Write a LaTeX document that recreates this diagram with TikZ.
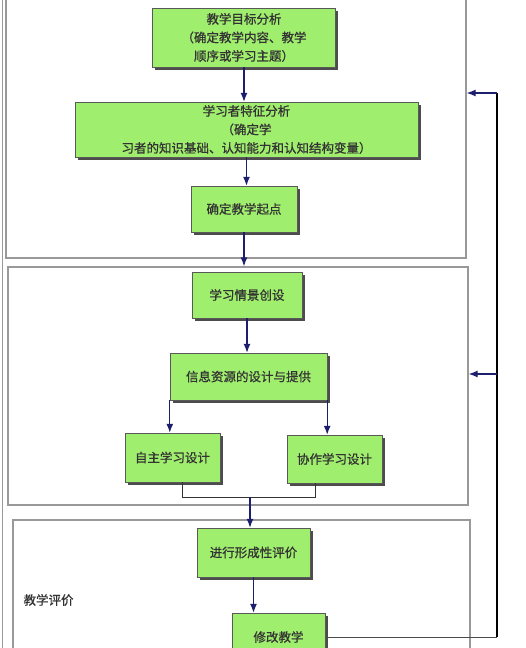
\documentclass[tikz,border=0pt]{standalone}
\usepackage{fontspec}
\newfontfamily\cjk[FakeBold=0.8]{Noto Sans CJK SC}
\usetikzlibrary{arrows.meta,shadows,positioning,calc}
\definecolor{boxgreen}{RGB}{160,238,110}
\definecolor{arrownavy}{RGB}{30,30,110}

\begin{document}
\begin{tikzpicture}[x=1pt,y=-1pt,
  stepbox/.style={draw=black!65,fill=boxgreen,text=black!80,align=center,
    font=\cjk\fontsize{12.5}{18.5}\selectfont,inner sep=0pt,
    drop shadow={shadow xshift=2.5pt,shadow yshift=-2.5pt,fill=black!70,opacity=1}},
  frame/.style={draw=gray!80,line width=1.3pt,inner sep=0pt},
  arr/.style={-{Latex[length=9pt,width=7pt]},draw=arrownavy,line width=1.3pt}]
\useasboundingbox (0,0) rectangle (526,648);
\clip (0,0) rectangle (526,648);

% frames
\draw[frame] (2.5,0) -- (2.5,648);
\node[frame,minimum width=460pt,minimum height=268pt] (f1) at (236,124) {};
\node[frame,minimum width=460pt,minimum height=238pt] (f2) at (238,386) {};
\node[frame,minimum width=457pt,minimum height=145pt] (f3) at (241.5,592.5) {};

% boxes
\node[stepbox,minimum width=183pt,minimum height=59pt] (goal) at (244,37.5)
  {教学目标分析\\（确定教学内容、教学\\顺序或学习主题）};
\node[stepbox,minimum width=343pt,minimum height=55pt] (learner) at (246.5,129.5)
  {学习者特征分析\\（确定学\\习者的知识基础、认知能力和认知结构变量）};
\node[stepbox,minimum width=106pt,minimum height=46pt] (start) at (244,209) {确定教学起点};
\node[stepbox,minimum width=110pt,minimum height=46pt] (scene) at (247,295) {学习情景创设};
\node[stepbox,minimum width=157pt,minimum height=47pt] (res) at (248.5,376.5) {信息资源的设计与提供};
\node[stepbox,minimum width=95pt,minimum height=49pt] (self) at (172.5,457.5) {自主学习设计};
\node[stepbox,minimum width=95pt,minimum height=48pt] (coop) at (334.5,459) {协作学习设计};
\node[stepbox,minimum width=113pt,minimum height=49pt] (form) at (253.5,552.5) {进行形成性评价};
\node[stepbox,minimum width=93pt,minimum height=48pt] (rev) at (278.5,637) {修改教学};
\node[anchor=west,text=black!80,font=\cjk\fontsize{12.5}{15}\selectfont] (evlabel) at (20,600) {教学评价};

% main flow
\draw[arr] (goal.south) -- (goal.south |- learner.north);
\draw[arr] (learner.south) -- (learner.south |- start.north);
\draw[arr] (start.south) -- (start.south |- f2.north);
\draw[arr] (scene.south) -- (scene.south |- res.north);
\draw[arr] (res.south west) -- (res.south west |- self.north);
\draw[arr] (res.south east) -- (res.south east |- coop.north);

% join of the two designs
\coordinate (jl) at (182,497);
\coordinate (jr) at (315,497);
\coordinate (jm) at (250,497);
\draw[black!80,line width=0.6pt] (self.south -| jl) -- (jl) -- (jr) -- (coop.south -| jr);
\draw[arr] (jm) -- (jm |- form.north);
\draw[arr] (form.south) -- (form.south |- rev.north);

% feedback
\coordinate (fb) at (497,637);
\coordinate (fbtop) at (497,93);
\coordinate (fbmid) at (497,374);
\draw[black!70,line width=0.8pt] (rev.east) -- (fb);
\draw[black,line width=2.2pt] (fb) -- (fbtop);
\draw[arr] (fbtop) -- (fbtop -| f1.east);
\draw[arr] (fbmid) -- (fbmid -| f2.east);
\end{tikzpicture}
\end{document}
